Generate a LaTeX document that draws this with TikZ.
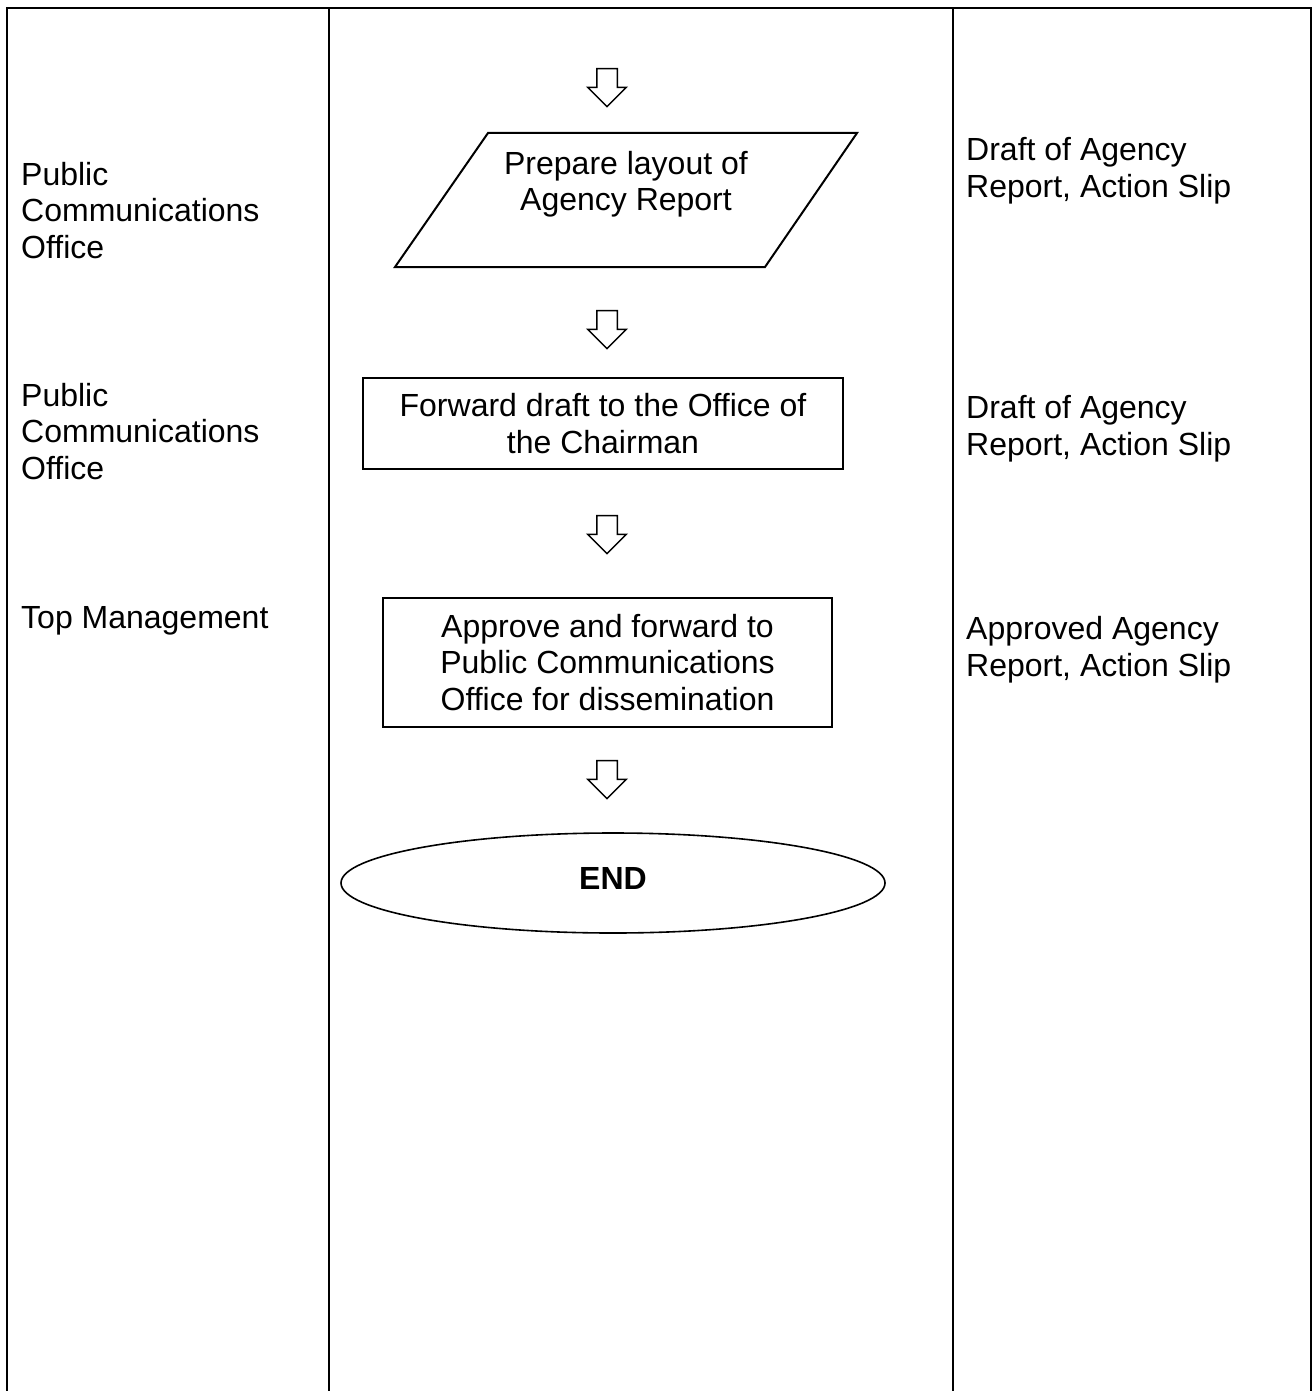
\documentclass[tikz,border=0pt]{standalone}
\usepackage{fontspec}
\setmainfont{Liberation Sans}
\usetikzlibrary{shapes.geometric,shapes.arrows}

\begin{document}
\begin{tikzpicture}[x=1pt, y=-1pt,
  txt/.style      ={font=\fontsize{32}{36.5}\selectfont, inner sep=0pt},
  lanelabel/.style={txt, align=left, anchor=base west},
  stepbox/.style  ={txt, draw, line width=2pt, align=center},
  endbox/.style   ={txt, draw, ellipse, line width=1.6pt, text depth=10pt,
                    font=\fontsize{32}{36.5}\selectfont\bfseries},
  flowarrow/.style={draw, line width=1.5pt, single arrow, shape border rotate=270,
                    minimum width=37pt, minimum height=38pt, single arrow head extend=9pt,
                    inner sep=9.5pt},
  grid/.style     ={line width=2pt}
]
\useasboundingbox (0,0) rectangle (1312,1391);

%%% ---- TABLE FRAME ------------------------------------------------------
\draw[grid] (7,1391) -- (7,8) -- (1311,8) -- (1311,1391);
\draw[grid] (329,8) -- (329,1391);
\draw[grid] (953,8) -- (953,1391);

%%% ---- LEFT COLUMN: who (anchored on the last baseline) ------------------
\node[lanelabel] (who1) at (21,258) {Public\\Communications\\Office};
\node[lanelabel] (who2) at (21,479) {Public\\Communications\\Office};
\node[lanelabel] (who3) at (21,628) {Top Management};

%%% ---- RIGHT COLUMN: documents ------------------------------------------
\node[lanelabel] (doc1) at (966,197) {Draft of Agency\\Report, Action Slip};
\node[lanelabel] (doc2) at (966,455) {Draft of Agency\\Report, Action Slip};
\node[lanelabel] (doc3) at (966,676) {Approved Agency\\Report, Action Slip};

%%% ---- MIDDLE COLUMN: flow ----------------------------------------------
\node[flowarrow] (arr1) at (607,82.5) {};

% parallelogram, text sits in its upper part
\draw[line width=2pt] (488,133) -- (857,133) -- (765,267) -- (395,267) -- cycle;
\node[txt, align=center, anchor=base] (prep) at (626,211) {Prepare layout of\\Agency Report};

\node[flowarrow] (arr2) at (607,324.5) {};

\node[stepbox, minimum width=480pt, minimum height=91pt] (fwd) at (603,423.5)
  {Forward draft to the Office of\\the Chairman};

\node[flowarrow] (arr3) at (607,529.5) {};

\node[stepbox, minimum width=449pt, minimum height=129pt] (appr) at (607.5,662.5)
  {Approve and forward to\\Public Communications\\Office for dissemination};

\node[flowarrow] (arr4) at (607,774.5) {};

\node[endbox, minimum width=544pt, minimum height=100pt] (stop) at (613,883) {END};

\end{tikzpicture}
\end{document}
